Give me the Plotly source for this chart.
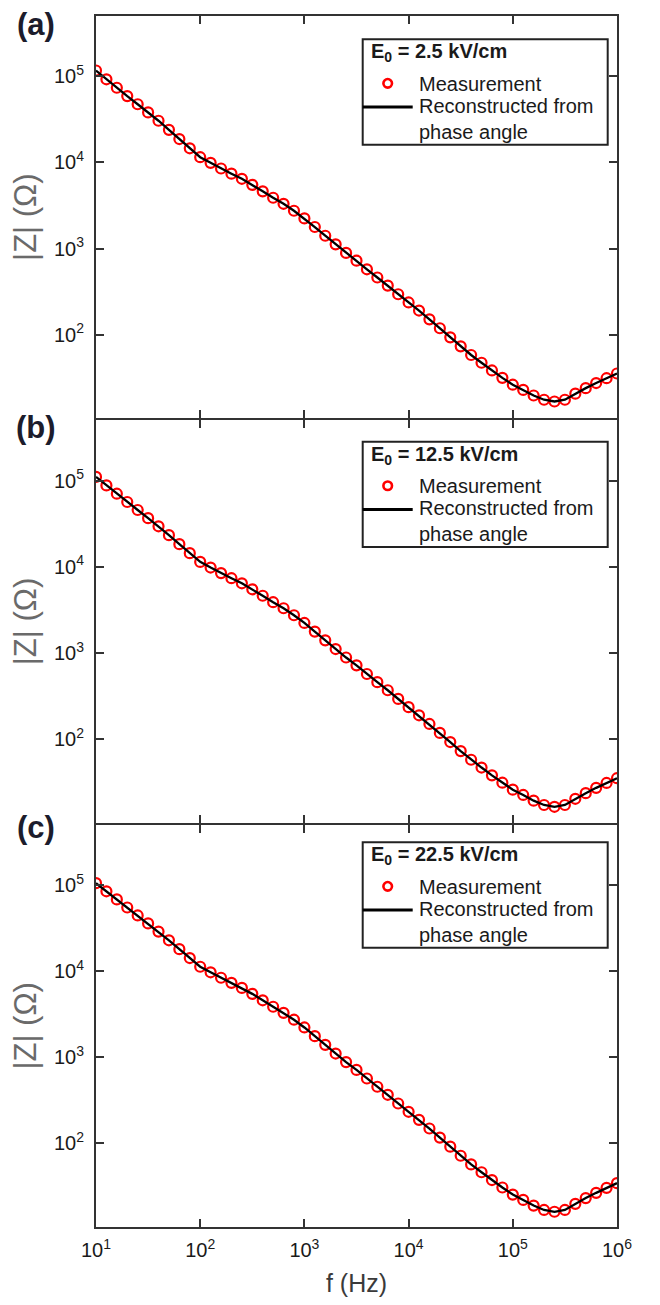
import plotly.graph_objects as go
from plotly.subplots import make_subplots

# ---------------- data ----------------
freq_hz = [10, 12.59, 15.85, 19.95, 25.12, 31.62, 39.81, 50.12, 63.10, 79.43,
           100, 125.9, 158.5, 199.5, 251.2, 316.2, 398.1, 501.2, 631.0, 794.3,
           1000, 1259, 1585, 1995, 2512, 3162, 3981, 5012, 6310, 7943,
           10000, 12589, 15849, 19953, 25119, 31623, 39811, 50119, 63096, 79433,
           100000, 125893, 158489, 199526, 251189, 316228, 398107, 501187, 630957, 794328,
           1000000]

z_meas_a = [116700, 92300, 73600, 58900, 47400, 38100, 30500, 23900, 18700, 14600,
            11500, 9890, 8510, 7410, 6460, 5500, 4620, 3890, 3310, 2750,
            2240, 1780, 1410, 1120, 891, 724, 575, 462, 372, 295,
            237, 191, 151, 119, 93.3, 73.3, 58.2, 47.3, 38.5, 31.6,
            26.3, 22.9, 19.7, 17.6, 16.8, 17.6, 20.7, 24.0, 27.5, 31.3,
            35.5]
z_rec_a = list(z_meas_a)

z_meas_b = [110500, 88000, 70500, 56500, 45600, 36700, 29500, 23300, 18300, 14400,
            11400, 9800, 8450, 7370, 6430, 5480, 4610, 3880, 3300, 2740,
            2230, 1770, 1400, 1110, 885, 718, 570, 458, 369, 293,
            235, 189, 150, 118, 92.5, 72.6, 57.6, 46.8, 38.0, 31.2,
            25.9, 22.5, 19.3, 17.2, 16.4, 17.2, 20.3, 23.6, 27.2, 31.0,
            35.2]
z_rec_b = list(z_meas_b)

z_meas_c = [105000, 84500, 68000, 54800, 44300, 35800, 28800, 22800, 18000, 14200,
            11250, 9700, 8380, 7320, 6390, 5450, 4590, 3860, 3280, 2730,
            2220, 1760, 1395, 1105, 880, 714, 567, 455, 367, 291,
            233, 188, 149, 117, 91.8, 72.0, 57.1, 46.3, 37.6, 30.8,
            25.5, 22.1, 19.0, 16.9, 16.1, 16.9, 19.9, 23.2, 26.7, 30.5,
            34.6]
z_rec_c = list(z_meas_c)

field_labels = ["E<sub>0</sub> = 2.5 kV/cm", "E<sub>0</sub> = 12.5 kV/cm", "E<sub>0</sub> = 22.5 kV/cm"]
panel_labels = ["(a)", "(b)", "(c)"]
series_names = ["Measurement", "Reconstructed from<br>phase angle"]
x_tick_vals = [10, 100, 1000, 10000, 100000, 1000000]
x_tick_text = ["10<sup>1</sup>", "10<sup>2</sup>", "10<sup>3</sup>", "10<sup>4</sup>", "10<sup>5</sup>", "10<sup>6</sup>"]
y_tick_vals = [100, 1000, 10000, 100000]
y_tick_text = ["10<sup>2</sup>", "10<sup>3</sup>", "10<sup>4</sup>", "10<sup>5</sup>"]

meas_series = [z_meas_a, z_meas_b, z_meas_c]
rec_series = [z_rec_a, z_rec_b, z_rec_c]

# ---------------- figure ----------------
FONT = "Liberation Sans, Arial, sans-serif"
AXC = "#333333"
TXT = "#1a1a1a"
RED = "#ff0000"

W, H = 660, 1305
ML, MR, MT, MB = 96, 43, 16, 75
PW, PH = W - ML - MR, H - MT - MB


def px_x(px):
    return (px - ML) / PW


def px_y(py):
    return (H - MB - py) / PH


fig = make_subplots(rows=3, cols=1, vertical_spacing=0)

for i in range(3):
    r = i + 1
    fig.add_trace(go.Scatter(
        x=freq_hz, y=meas_series[i], mode="markers", name="Measurement",
        marker=dict(symbol="circle-open", size=10, color=RED,
                    line=dict(width=2.2, color=RED)),
        showlegend=False), row=r, col=1)
    fig.add_trace(go.Scatter(
        x=freq_hz, y=rec_series[i], mode="lines",
        name="Reconstructed from phase angle",
        line=dict(color="black", width=2.3),
        showlegend=False), row=r, col=1)

axis_common = dict(showline=True, linecolor=AXC, linewidth=2, mirror="ticks",
                   ticks="inside", ticklen=8, tickwidth=2, tickcolor=AXC,
                   showgrid=False, zeroline=False,
                   tickfont=dict(family=FONT, size=20, color=TXT))

# panel domains (pixel rows), with a 2px offset so shared borders coincide
panel_px = [(16, 419.3), (421.3, 824.7), (826.7, 1230)]

for r in range(1, 4):
    top, bot = panel_px[r - 1]
    fig.update_xaxes(type="log", range=[1, 6], tickmode="array",
                     tickvals=x_tick_vals, ticktext=x_tick_text,
                     ticklabelstandoff=4,
                     showticklabels=(r == 3), row=r, col=1, **axis_common)
    fig.update_yaxes(type="log", range=[1.03, 5.70], tickmode="array",
                     tickvals=y_tick_vals, ticktext=y_tick_text,
                     ticklabelstandoff=6,
                     domain=[max(0, px_y(bot)), min(1, px_y(top))],
                     title=dict(text="|Z| (Ω)", standoff=8,
                                font=dict(family=FONT, size=31, color="#6a6a6a")),
                     row=r, col=1, **axis_common)

fig.update_xaxes(title=dict(text="f (Hz)", standoff=14,
                            font=dict(family=FONT, size=25, color="#3a3a3a")),
                 row=3, col=1)

# ---------------- legend boxes (one per panel) ----------------
shapes = []
annotations = []
panel_shift = [0, 403.4, 805.0]
for i in range(3):
    d = panel_shift[i]
    # box
    shapes.append(dict(type="rect", xref="paper", yref="paper",
                       x0=px_x(362.7), x1=px_x(607.7),
                       y0=px_y(145 + d), y1=px_y(39.3 + d),
                       line=dict(color="#222222", width=2), fillcolor="white",
                       layer="above"))
    # marker symbol
    shapes.append(dict(type="circle", xref="paper", yref="paper",
                       x0=px_x(387.7 - 4.3), x1=px_x(387.7 + 4.3),
                       y0=px_y(83.5 + 4.3 + d), y1=px_y(83.5 - 4.3 + d),
                       line=dict(color=RED, width=2.6), fillcolor="white",
                       layer="above"))
    # line symbol
    shapes.append(dict(type="line", xref="paper", yref="paper",
                       x0=px_x(362.7), x1=px_x(412.7),
                       y0=px_y(107.3 + d), y1=px_y(107.3 + d),
                       line=dict(color="black", width=3), layer="above"))
    # title
    annotations.append(dict(text="<b>" + field_labels[i] + "</b>",
                            x=px_x(369), y=px_y(53 + d), xref="paper", yref="paper",
                            xanchor="left", yanchor="middle", showarrow=False,
                            font=dict(family=FONT, size=20, color=TXT)))
    annotations.append(dict(text=series_names[0],
                            x=px_x(417), y=px_y(84 + d), xref="paper", yref="paper",
                            xanchor="left", yanchor="middle", showarrow=False,
                            font=dict(family=FONT, size=20, color=TXT)))
    annotations.append(dict(text=series_names[1],
                            x=px_x(417), y=px_y(119 + d), xref="paper", yref="paper",
                            xanchor="left", yanchor="middle", showarrow=False, align="left",
                            font=dict(family=FONT, size=20, color=TXT)))
    # panel label
    annotations.append(dict(text="<b>" + panel_labels[i] + "</b>",
                            x=px_x(36), y=px_y(25 + d), xref="paper", yref="paper",
                            xanchor="center", yanchor="middle", showarrow=False,
                            font=dict(family=FONT, size=31, color="#1c1c2c")))

fig.update_layout(
    width=W, height=H,
    margin=dict(l=ML, r=MR, t=MT, b=MB),
    plot_bgcolor="white", paper_bgcolor="white",
    showlegend=False,
    shapes=shapes,
    annotations=annotations,
)

fig.write_html("out.html")
